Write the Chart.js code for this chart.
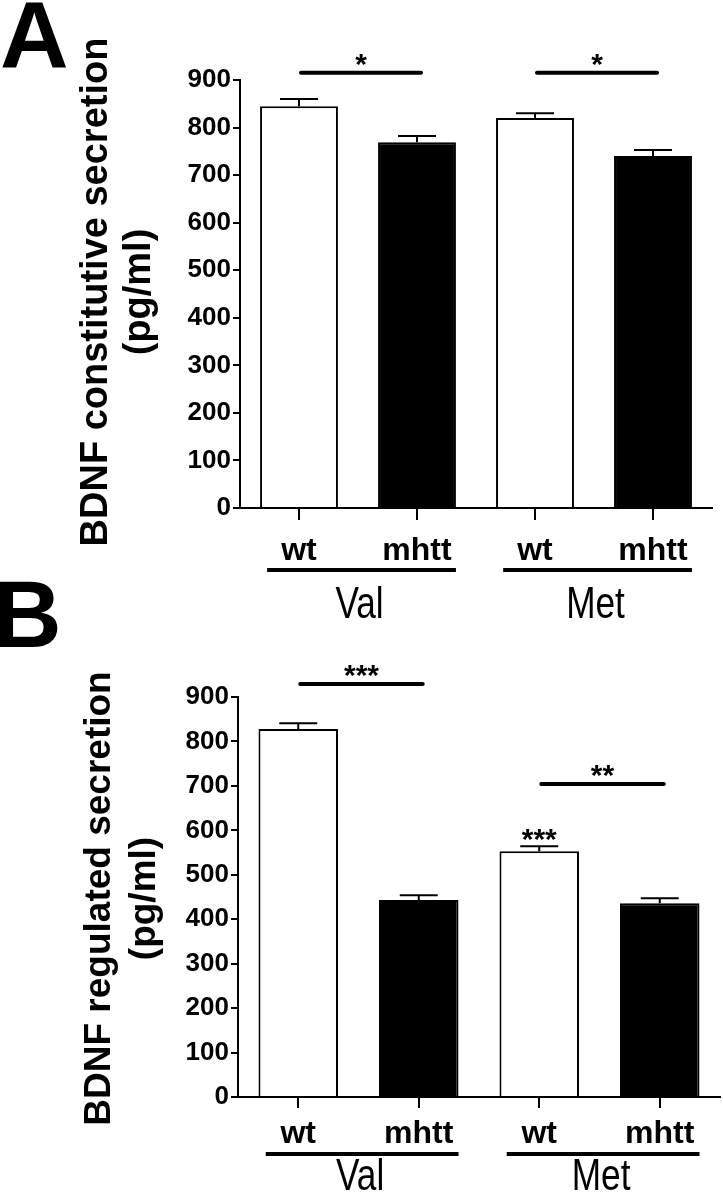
<!DOCTYPE html>
<html><head><meta charset="utf-8">
<script src="https://cdn.jsdelivr.net/npm/chart.js@4"></script>
<style>
html,body{margin:0;padding:0;background:#fff;width:723px;height:1199px;overflow:hidden;position:relative}
canvas{position:absolute;left:0;background:transparent}
#panelA{top:0}
#panelB{top:560px}
</style></head>
<body>
<canvas id="panelA" width="723" height="640"></canvas>
<canvas id="panelB" width="723" height="639"></canvas>
<script>
// ---------- data ----------
const categories = ['wt', 'mhtt', 'wt', 'mhtt'];
const groupLabels = ['Val', 'Met'];
const groupMembers = [[0, 1], [2, 3]];
const barColors = ['#ffffff', '#000000', '#ffffff', '#000000'];
const yMin = 0, yMax = 900, yStep = 100;

const constitutiveMean = [845, 769, 820, 740];
const constitutiveSEM  = [15, 13, 10, 13];
const constitutiveSig  = [[0, 1, 915, '*'], [2, 3, 915, '*']];   // from, to, level, label
const constitutiveBarStars = [];

const regulatedMean = [828, 443, 553, 436];
const regulatedSEM  = [13, 11, 11, 11];
const regulatedSig  = [[0, 1, 929, '***'], [2, 3, 704, '**']];
const regulatedBarStars = [[2, '***']];

const FONT = '"Liberation Sans", Arial, Helvetica, sans-serif';

// ---------- layout / style per panel ----------
const panelA = {
  canvas: 'panelA', letter: 'A', letterX: 0, letterY: 68,
  title: ['BDNF constitutive secretion', '(pg/ml)'], titleSize: 38, titleX: 97, titleGap: 43, titleY: 292,
  padTop: 80, padRight: 11, padBottom: 52, yWidth: 240, xHeight: 80,
  tickLen: 12, tickPad: 12, underlineOffset: 62, groupBaselineOffset: 110,
  mean: constitutiveMean, sem: constitutiveSEM, sig: constitutiveSig, barStars: constitutiveBarStars
};
const panelB = {
  canvas: 'panelB', letter: 'B', letterX: -7, letterY: 87,
  title: ['BDNF regulated secretion', '(pg/ml)'], titleSize: 37, titleX: 100, titleGap: 45, titleY: 338.5,
  padTop: 137, padRight: 3, padBottom: 22, yWidth: 238, xHeight: 80,
  tickLen: 11, tickPad: 7, underlineOffset: 57, groupBaselineOffset: 93,
  mean: regulatedMean, sem: regulatedSEM, sig: regulatedSig, barStars: regulatedBarStars
};

function decorPlugin(p) {
  return {
    id: 'decor' + p.letter,
    afterDraw(chart) {
      const ctx = chart.ctx;
      const xs = chart.scales.x, ys = chart.scales.y;
      const meta = chart.getDatasetMeta(0);
      const cat = xs.getPixelForValue(1) - xs.getPixelForValue(0);
      ctx.save();
      ctx.fillStyle = '#000';
      ctx.strokeStyle = '#000';

      // error bars (upper half)
      ctx.lineWidth = 2;
      ctx.lineCap = 'butt';
      p.mean.forEach((m, i) => {
        const cx = meta.data[i].x;
        const y0 = ys.getPixelForValue(m);
        const y1 = ys.getPixelForValue(m + p.sem[i]);
        ctx.beginPath();
        ctx.moveTo(cx, y0); ctx.lineTo(cx, y1);
        ctx.moveTo(cx - 19, y1); ctx.lineTo(cx + 19, y1);
        ctx.stroke();
      });

      // significance lines and stars
      ctx.font = 'bold 30px ' + FONT;
      ctx.textAlign = 'center';
      ctx.textBaseline = 'alphabetic';
      p.sig.forEach(([a, b, level, label]) => {
        const x0 = xs.getPixelForValue(a) + 2;
        const x1 = xs.getPixelForValue(b) + 4;
        const yy = ys.getPixelForValue(level);
        ctx.lineWidth = 4;
        ctx.lineCap = 'round';
        ctx.beginPath(); ctx.moveTo(x0, yy); ctx.lineTo(x1, yy); ctx.stroke();
        ctx.fillText(label, (x0 + x1) / 2, yy + 1);
      });
      p.barStars.forEach(([i, label]) => {
        const cx = meta.data[i].x;
        const yy = ys.getPixelForValue(p.mean[i] + p.sem[i]);
        ctx.fillText(label, cx, yy + 2.5);
      });

      // group underlines + labels
      const base = ys.bottom;
      groupMembers.forEach((mem, g) => {
        const xa = xs.getPixelForValue(mem[0]) - 0.27 * cat;
        const xb = xs.getPixelForValue(mem[mem.length - 1]) + 0.33 * cat;
        const uy = base + p.underlineOffset;
        ctx.lineWidth = 4;
        ctx.lineCap = 'butt';
        ctx.beginPath(); ctx.moveTo(xa, uy); ctx.lineTo(xb, uy); ctx.stroke();
        ctx.save();
        ctx.translate((xa + xb) / 2 - 2, base + p.groupBaselineOffset);
        ctx.scale(0.8, 1);
        ctx.font = '44px ' + FONT;
        ctx.textAlign = 'center';
        ctx.textBaseline = 'alphabetic';
        ctx.fillText(groupLabels[g], 0, 0);
        ctx.restore();
      });

      // y-axis title (two lines, rotated)
      ctx.font = 'bold ' + p.titleSize + 'px ' + FONT;
      ctx.textAlign = 'center';
      ctx.textBaseline = 'middle';
      p.title.forEach((line, k) => {
        ctx.save();
        ctx.translate(p.titleX + k * p.titleGap, p.titleY);
        ctx.rotate(-Math.PI / 2);
        ctx.fillText(line, 0, 0);
        ctx.restore();
      });

      // panel letter
      ctx.font = 'bold 95px ' + FONT;
      ctx.textAlign = 'left';
      ctx.textBaseline = 'alphabetic';
      ctx.fillText(p.letter, p.letterX, p.letterY);
      ctx.restore();
    }
  };
}

function makeChart(p) {
  return new Chart(document.getElementById(p.canvas), {
    type: 'bar',
    data: {
      labels: categories,
      datasets: [{
        data: p.mean,
        backgroundColor: barColors,
        borderColor: '#000',
        borderWidth: 2,
        barPercentage: 0.66,
        categoryPercentage: 1.0
      }]
    },
    options: {
      responsive: false,
      animation: false,
      devicePixelRatio: 1,
      layout: { padding: { top: p.padTop, right: p.padRight, bottom: p.padBottom, left: 0 } },
      plugins: { legend: { display: false }, tooltip: { enabled: false } },
      scales: {
        x: {
          type: 'category',
          offset: true,
          z: 1,
          grid: { offset: false, drawOnChartArea: false, tickLength: p.tickLen, color: '#000', lineWidth: 2 },
          border: { color: '#000', width: 2 },
          ticks: { color: '#000', padding: p.tickPad, maxRotation: 0, autoSkip: false,
                   font: { family: FONT, size: 32, weight: 'bold' } },
          afterFit(s) { s.height = p.xHeight; }
        },
        y: {
          min: yMin, max: yMax,
          z: 1,
          grid: { drawOnChartArea: false, tickLength: 7, color: '#000', lineWidth: 2 },
          border: { color: '#000', width: 2 },
          ticks: { stepSize: yStep, color: '#000', padding: 2,
                   font: { family: FONT, size: 26, weight: 'bold' } },
          afterFit(s) { s.width = p.yWidth; }
        }
      }
    },
    plugins: [decorPlugin(p)]
  });
}

makeChart(panelA);
makeChart(panelB);
</script>
</body></html>
